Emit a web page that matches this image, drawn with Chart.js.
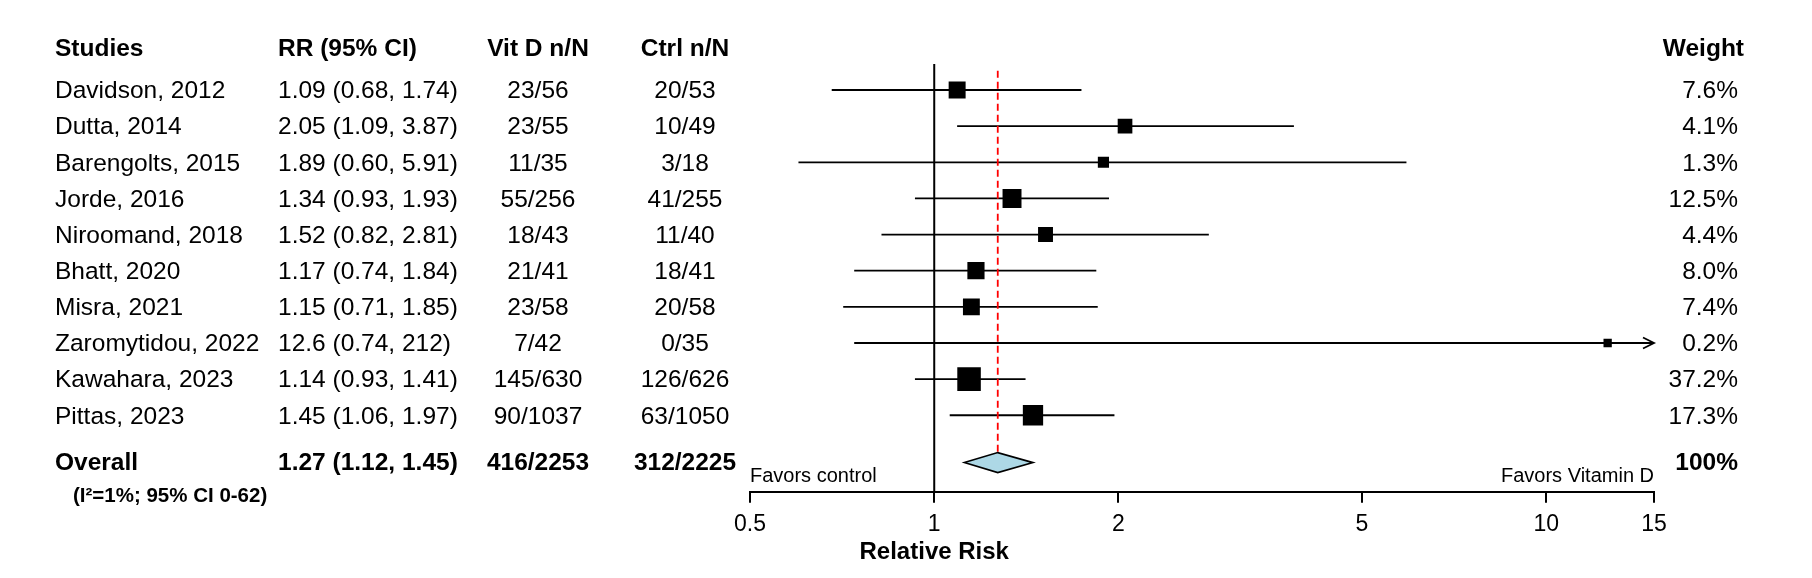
<!DOCTYPE html>
<html>
<head>
<meta charset="utf-8">
<script src="https://cdn.jsdelivr.net/npm/chart.js@4.4.0/dist/chart.umd.min.js"></script>
<style>
html, body { margin: 0; padding: 0; background: #fff; }
canvas { display: block; }
</style>
</head>
<body>
<canvas id="forest" width="1812" height="578"></canvas>
<script>
// table + forest data
const studies = ["Davidson, 2012", "Dutta, 2014", "Barengolts, 2015", "Jorde, 2016", "Niroomand, 2018",
	"Bhatt, 2020", "Misra, 2021", "Zaromytidou, 2022", "Kawahara, 2023", "Pittas, 2023"]
const rr = [1.09, 2.05, 1.89, 1.34, 1.52, 1.17, 1.15, 12.6, 1.14, 1.45]
const ciLow = [0.68, 1.09, 0.60, 0.93, 0.82, 0.74, 0.71, 0.74, 0.93, 1.06]
const ciHigh = [1.74, 3.87, 5.91, 1.93, 2.81, 1.84, 1.85, 212, 1.41, 1.97]
const rrText = ["1.09 (0.68, 1.74)", "2.05 (1.09, 3.87)", "1.89 (0.60, 5.91)", "1.34 (0.93, 1.93)", "1.52 (0.82, 2.81)",
	"1.17 (0.74, 1.84)", "1.15 (0.71, 1.85)", "12.6 (0.74, 212)", "1.14 (0.93, 1.41)", "1.45 (1.06, 1.97)"]
const vitD = ["23/56", "23/55", "11/35", "55/256", "18/43", "21/41", "23/58", "7/42", "145/630", "90/1037"]
const ctrl = ["20/53", "10/49", "3/18", "41/255", "11/40", "18/41", "20/58", "0/35", "126/626", "63/1050"]
const weights = [7.6, 4.1, 1.3, 12.5, 4.4, 8.0, 7.4, 0.2, 37.2, 17.3]

const overallRR = 1.27
const overallLow = 1.12
const overallHigh = 1.45
const overallText = ["Overall", "1.27 (1.12, 1.45)", "416/2253", "312/2225", "100%"]
const heterogeneity = "(I\u00b2=1%; 95% CI 0-62)"

const headers = ["Studies", "RR (95% CI)", "Vit D n/N", "Ctrl n/N", "Weight"]
const tickValues = [0.5, 1, 2, 5, 10, 15]

const FONT = '"Liberation Sans", Arial, Helvetica, sans-serif'
const OVERALL_ROW = 10.31

// square side grows with study weight
const sideFor = w => 7.5 + 4.4 * Math.log(1 + w)

function text(ctx, str, x, y, align, size, bold) {
	ctx.font = (bold ? "bold " : "") + size + "px " + FONT
	ctx.textAlign = align
	ctx.textBaseline = "middle"
	ctx.fillStyle = "#000"
	ctx.fillText(str, x, y)
}

const forestPlugin = {
	id: "forest",
	beforeDatasetsDraw(chart) {
		const ctx = chart.ctx
		const xs = chart.scales.x
		const ys = chart.scales.y
		const x1 = xs.getPixelForValue(1)
		ctx.save()

		// line of no effect
		ctx.strokeStyle = "#000"
		ctx.lineWidth = 2
		ctx.beginPath()
		ctx.moveTo(x1, ys.getPixelForValue(-0.72))
		ctx.lineTo(x1, chart.chartArea.bottom)
		ctx.stroke()

		// confidence intervals
		ctx.lineWidth = 1.8
		studies.forEach((s, i) => {
			const yy = ys.getPixelForValue(i)
			const a = xs.getPixelForValue(Math.max(ciLow[i], xs.min))
			const b = xs.getPixelForValue(Math.min(ciHigh[i], xs.max))
			ctx.beginPath()
			ctx.moveTo(a, yy)
			ctx.lineTo(b, yy)
			ctx.stroke()
			if (ciHigh[i] > xs.max) {
				ctx.beginPath()
				ctx.moveTo(b - 11, yy - 5.5)
				ctx.lineTo(b, yy)
				ctx.lineTo(b - 11, yy + 5.5)
				ctx.stroke()
			}
		})

		// pooled estimate
		const xp = xs.getPixelForValue(overallRR)
		ctx.strokeStyle = "#ff0000"
		ctx.lineWidth = 1.8
		ctx.setLineDash([7, 4])
		ctx.beginPath()
		ctx.moveTo(xp, ys.getPixelForValue(-0.53))
		ctx.lineTo(xp, ys.getPixelForValue(OVERALL_ROW) - 10)
		ctx.stroke()
		ctx.restore()
	},
	afterDatasetsDraw(chart) {
		const ctx = chart.ctx
		const xs = chart.scales.x
		const ys = chart.scales.y
		const area = chart.chartArea
		ctx.save()

		// overall diamond
		const yo = ys.getPixelForValue(OVERALL_ROW)
		ctx.beginPath()
		ctx.moveTo(xs.getPixelForValue(overallLow), yo)
		ctx.lineTo(xs.getPixelForValue(overallRR), yo - 10)
		ctx.lineTo(xs.getPixelForValue(overallHigh), yo)
		ctx.lineTo(xs.getPixelForValue(overallRR), yo + 10)
		ctx.closePath()
		ctx.fillStyle = "#add8e6"
		ctx.fill()
		ctx.strokeStyle = "#000"
		ctx.lineWidth = 1.6
		ctx.stroke()

		// table columns
		const colX = [55, 278, 538, 685, 1738]
		const align = ["left", "left", "center", "center", "right"]
		const yh = ys.getPixelForValue(-1.13)
		headers.forEach((h, c) => text(ctx, h, c === 4 ? 1744 : colX[c], yh, align[c], 24.5, true))

		studies.forEach((s, i) => {
			const yy = ys.getPixelForValue(i) + 1.5
			const cells = [s, rrText[i], vitD[i], ctrl[i], weights[i].toFixed(1) + "%"]
			cells.forEach((t, c) => text(ctx, t, colX[c], yy, align[c], 24.5, false))
		})

		overallText.forEach((t, c) => text(ctx, t, colX[c], yo + 1, align[c], 24.5, true))
		text(ctx, heterogeneity, 73, ys.getPixelForValue(11.23), "left", 20.5, true)

		// favours labels
		text(ctx, "Favors control", area.left, ys.getPixelForValue(10.7), "left", 20, false)
		text(ctx, "Favors Vitamin D", area.right, ys.getPixelForValue(10.7), "right", 20, false)

		// axis title centred on the null value
		text(ctx, "Relative Risk", xs.getPixelForValue(1), 552, "center", 24, true)
		ctx.restore()
	},
}

const myChart = new Chart(document.querySelector("#forest").getContext("2d"), {
	type: "scatter",
	data: {
		datasets: [
			{
				data: rr.map((v, i) => ({ x: v, y: i })),
				pointStyle: "rect",
				pointRadius: weights.map(w => sideFor(w) / Math.SQRT2),
				pointHoverRadius: weights.map(w => sideFor(w) / Math.SQRT2),
				backgroundColor: "#000",
				borderWidth: 0,
			},
		],
	},
	options: {
		responsive: false,
		animation: false,
		devicePixelRatio: 1,
		layout: { padding: { left: 750, right: 158, top: 35.8, bottom: 0 } },
		plugins: { legend: { display: false }, tooltip: { enabled: false } },
		scales: {
			x: {
				type: "logarithmic",
				min: 0.5,
				max: 15,
				afterBuildTicks: s => {
					s.ticks = tickValues.map(v => ({ value: v }))
				},
				afterFit: s => {
					s.height = 86.3
					s.paddingLeft = 0
					s.paddingRight = 0
				},
				ticks: {
					callback: v => String(v),
					font: { size: 23, family: FONT },
					color: "#000",
					maxRotation: 0,
					autoSkip: false,
					padding: 8,
				},
				grid: { drawOnChartArea: false, drawTicks: true, tickLength: 11, color: "#000", lineWidth: 2 },
				border: { display: true, color: "#000", width: 2 },
			},
			y: {
				type: "linear",
				display: false,
				reverse: true,
				min: -1.5,
				max: 11.115,
			},
		},
	},
	plugins: [forestPlugin],
})
</script>
</body>
</html>
